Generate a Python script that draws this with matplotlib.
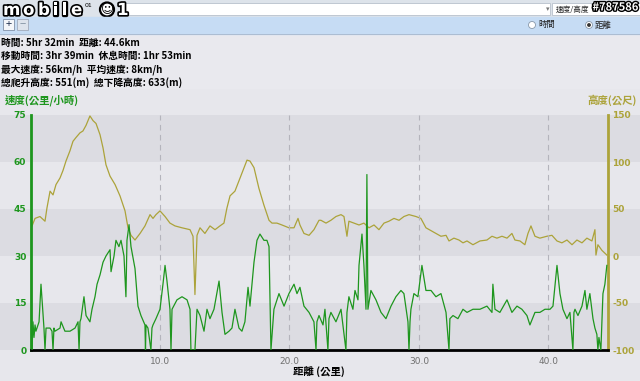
import matplotlib.pyplot as plt
import matplotlib.patheffects as pe
from matplotlib.patches import Rectangle, Circle

plt.rcParams['font.family'] = ['Noto Sans CJK TC', 'DejaVu Sans']

# ── data ─────────────────────────────────────────────────────────────────────
SPEED_KM = [0.12, 0.19, 0.27, 0.35, 0.42, 0.66, 0.81, 0.97, 1.04, 1.12, 1.20,
            1.51, 1.66, 1.74, 1.81, 1.89, 2.28, 2.36, 2.66, 3.05, 3.44, 3.67,
            3.75, 3.82, 3.90, 4.13, 4.29, 4.59, 4.75, 4.98, 5.14, 5.37, 5.60,
            5.83, 6.14, 6.22, 6.45, 6.60, 6.83, 6.99, 7.22, 7.37, 7.45, 7.61,
            7.76, 8.07, 8.30, 8.53, 8.84, 8.88, 8.92, 9.07, 9.30, 9.38, 9.46,
            9.69, 10.00, 10.23, 10.39, 10.54, 10.77, 10.85, 10.93, 11.31,
            11.70, 12.09, 12.32, 12.39, 12.70, 12.86, 13.09, 13.40, 13.63,
            13.86, 14.17, 14.56, 14.79, 15.02, 15.33, 15.56, 15.79, 16.10,
            16.33, 16.56, 16.80, 16.95, 17.26, 17.49, 17.72, 18.03, 18.26,
            18.42, 18.57, 18.80, 19.19, 19.58, 19.96, 20.35, 20.58, 20.81,
            21.12, 21.51, 21.89, 22.05, 22.12, 22.28, 22.59, 22.74, 22.97,
            23.05, 23.20, 23.59, 23.98, 24.36, 24.44, 24.59, 24.90, 25.06,
            25.29, 25.37, 25.60, 25.75, 25.91, 25.98, 26.06, 26.29, 26.68,
            27.07, 27.45, 27.84, 28.22, 28.61, 28.84, 29.15, 29.23, 29.31,
            29.38, 29.61, 29.92, 30.23, 30.54, 30.93, 31.31, 31.70, 32.09,
            32.32, 32.39, 32.63, 33.01, 33.40, 33.71, 34.17, 34.71, 35.25,
            35.64, 35.71, 35.87, 36.25, 36.80, 37.18, 37.57, 37.95, 38.34,
            38.57, 38.96, 39.34, 39.73, 40.12, 40.35, 40.66, 40.89, 41.12,
            41.43, 41.66, 41.89, 41.97, 42.05, 42.28, 42.59, 42.82, 42.97,
            43.20, 43.44, 43.59, 43.74, 43.82, 43.90, 44.05, 44.21, 44.36,
            44.51]
SPEED = [0, 9, 4, 8, 6, 9, 21, 11, 7, 0, 7,
         7, 6, 0, 7, 6, 7, 9, 6, 6, 7, 9,
         0, 9, 10, 17, 11, 9, 13, 17, 21, 24, 28,
         30, 32, 25, 30, 35, 33, 35, 30, 17, 35, 40,
         33, 26, 14, 11, 8, 0, 8, 7, 0, 7, 8,
         10, 13, 21, 27, 22, 13, 0, 13, 16,
         17, 16, 13, 0, 0, 13, 11, 6, 13,
         10, 13, 22, 12, 5, 6, 7, 13, 7,
         6, 9, 20, 14, 28, 35, 37, 35, 35,
         33, 0, 13, 18, 14, 18, 21, 18, 20,
         14, 12, 9, 0, 9, 11, 8, 13, 0,
         10, 12, 9, 13, 0, 12, 17, 13, 19,
         16, 27, 37, 27, 13, 56, 13, 19, 16,
         12, 10, 14, 17, 19, 18, 9, 0, 9,
         13, 18, 17, 27, 19, 19, 17, 18, 12,
         0, 10, 11, 10, 13, 12, 13, 13, 14,
         12, 21, 13, 12, 16, 12, 14, 13, 11,
         8, 12, 12, 13, 13, 14, 27, 18, 13,
         10, 12, 0, 12, 13, 11, 14, 19, 13,
         18, 10, 7, 5, 0, 4, 0, 18, 21,
         27]

ALT_KM = [0.12, 0.35, 0.73, 1.12, 1.27, 1.51, 1.74, 1.97, 2.28, 2.51, 2.74,
          3.05, 3.28, 3.51, 3.82, 4.05, 4.29, 4.59, 4.83, 5.06, 5.37, 5.60,
          5.83, 6.14, 6.53, 6.91, 7.30, 7.53, 7.76, 8.07, 8.46, 8.84, 9.23,
          9.46, 9.69, 10.00, 10.39, 10.77, 11.16, 11.70, 12.32, 12.55, 12.70,
          12.86, 13.09, 13.47, 13.86, 14.25, 14.63, 14.94, 15.17, 15.41,
          15.79, 16.10, 16.41, 16.72, 16.95, 17.26, 17.64, 18.03, 18.42,
          18.65, 19.03, 19.42, 19.96, 20.35, 20.66, 20.81, 21.12, 21.51,
          21.89, 22.28, 22.43, 22.82, 23.20, 23.59, 23.98, 24.21, 24.44,
          24.59, 24.98, 25.37, 25.75, 26.14, 26.53, 26.91, 27.30, 27.68,
          28.07, 28.46, 28.84, 29.23, 29.77, 30.15, 30.54, 30.93, 31.31,
          31.70, 32.09, 32.32, 32.70, 33.09, 33.40, 33.71, 34.17, 34.71,
          35.25, 35.64, 36.02, 36.41, 36.80, 37.18, 37.41, 37.80, 38.18,
          38.42, 38.65, 38.96, 39.34, 39.88, 40.27, 40.66, 41.04, 41.43,
          41.82, 42.20, 42.59, 42.97, 43.36, 43.59, 43.67, 43.82, 44.13,
          44.36, 44.51]
ALT = [32, 40, 42, 37, 51, 69, 65, 76, 83, 91, 101,
       112, 122, 126, 131, 133, 139, 149, 144, 141, 129, 115,
       97, 85, 76, 64, 48, 30, 22, 17, 24, 32, 44,
       40, 44, 48, 42, 35, 32, 30, 28, 21, -41,
       22, 30, 24, 32, 28, 32, 35, 51, 64,
       69, 80, 91, 102, 101, 94, 72, 54, 38,
       35, 35, 33, 30, 30, 40, 33, 24, 22,
       28, 38, 38, 35, 38, 42, 44, 42, 21,
       37, 35, 33, 35, 30, 33, 28, 35, 37,
       40, 38, 42, 44, 42, 40, 30, 27, 24,
       21, 22, 16, 19, 17, 14, 16, 12, 16,
       17, 21, 19, 21, 19, 24, 17, 16, 12,
       24, 32, 21, 19, 21, 22, 16, 14, 17,
       12, 17, 14, 19, 16, 28, 1, 12, 6,
       3, 1]

STATS = ["時間: 5hr 32min  距離: 44.6km",
         "移動時間: 3hr 39min  休息時間: 1hr 53min",
         "最大速度: 56km/h  平均速度: 8km/h",
         "總爬升高度: 551(m)  總下降高度: 633(m)"]

X_TICKS = [10, 20, 30, 40]
SPEED_TICKS = [0, 15, 30, 45, 60, 75]
ALT_TICKS = [-100, -50, 0, 50, 100, 150]

GREEN = '#1e961e'
OLIVE = '#aca33a'
DARK_BAND = '#dcdce2'
LIGHT_BAND = '#e7e7ec'

W, H = 640, 381
fig = plt.figure(figsize=(W / 100, H / 100), dpi=100)
fig.patch.set_facecolor('#e9e9ee')

# ── page chrome (toolbar, stats text) ────────────────────────────────────────
ui = fig.add_axes([0, 0, 1, 1], zorder=0)
ui.set_xlim(0, W)
ui.set_ylim(H, 0)
ui.axis('off')
ui.add_patch(Rectangle((0, 0), W, 17, color='#dde3ea'))
ui.add_patch(Rectangle((125, 3), 425, 12, facecolor='white', edgecolor='#b8c0cc', lw=0.6))
ui.add_patch(Rectangle((552, 3), 88, 12, facecolor='white', edgecolor='#b8c0cc', lw=0.6))
ui.text(548, 9.5, '▾', fontsize=5, color='#777777', ha='center', va='center')
ui.text(556, 9.5, '速度/高度', fontsize=5.5, color='#222222', va='center')
ui.text(638, 7, '#787586', fontsize=8, color='white', ha='right', va='center',
        fontweight='bold',
        path_effects=[pe.withStroke(linewidth=2, foreground='black')])

# logo: outlined letters
logo_fx = [pe.withStroke(linewidth=2.4, foreground='black')]
for ch, lx in zip('mobile', [3, 23, 38, 53, 62, 71]):
    ui.text(lx, 10, ch, fontsize=12, color='white', va='center',
            family='DejaVu Sans', fontweight='bold', path_effects=logo_fx)
ui.text(85, 5.5, '01', fontsize=4.5, color='black', va='center', family='DejaVu Sans')
ui.add_patch(Circle((107, 9.5), 7, facecolor='white', edgecolor='black', lw=1.6))
ui.text(107, 10, '☺', fontsize=9, color='black', ha='center', va='center',
        family='DejaVu Sans')
ui.text(117, 10, '1', fontsize=12, color='white', va='center', fontweight='bold',
        family='DejaVu Sans', path_effects=logo_fx)

ui.add_patch(Rectangle((0, 17), W, 17, color='#c6dcf4'))
ui.add_patch(Rectangle((3, 19), 11, 11, facecolor='#f4f6fa', edgecolor='#8090a8', lw=0.6))
ui.text(8.5, 24.5, '+', fontsize=8, ha='center', va='center', color='#203050')
ui.add_patch(Rectangle((17, 19), 11, 11, facecolor='#dde3ec', edgecolor='#a0aabb', lw=0.6))
ui.text(22.5, 24.5, '−', fontsize=8, ha='center', va='center', color='#8090a0')
ui.add_patch(Circle((532, 25), 3.5, facecolor='white', edgecolor='#8898aa', lw=0.6))
ui.text(538, 25, '時間', fontsize=6, va='center', color='#222222')
ui.add_patch(Circle((589, 25), 3.5, facecolor='white', edgecolor='#8898aa', lw=0.6))
ui.add_patch(Circle((589, 25), 1.2, color='#333333'))
ui.text(595, 25, '距離', fontsize=6, va='center', color='#222222')
ui.plot([0, W], [34, 34], color='#a8b8cc', lw=0.6)

for i, line in enumerate(STATS):
    ui.text(1, 42.5 + i * 13.3, line, fontsize=7, va='center', color='black',
            fontweight='bold')

# ── banded background behind the chart ──────────────────────────────────────
bg_top = 89
bg = fig.add_axes([0, 0, 1, 1 - bg_top / H], zorder=1)
bg.set_xlim(0, 1)
bg.set_ylim((350 - H) / 3.133, (350 - bg_top) / 3.133)
bg.axis('off')
bg.axhspan(-20, 0, color=LIGHT_BAND, lw=0)
for lo in range(0, 90, 15):
    bg.axhspan(lo, lo + 15, color=DARK_BAND if (lo // 15) % 2 == 0 else LIGHT_BAND, lw=0)

# ── chart ────────────────────────────────────────────────────────────────────
ax = fig.add_axes([30.5 / W, 1 - 350 / H, 577.5 / W, 235 / H], zorder=2)
ax.patch.set_alpha(0)
ax.set_xlim(0, 44.6)
ax.set_ylim(0, 75)

ax2 = ax.twinx()
ax2.set_ylim(-100, 150)
ax2.plot(ALT_KM, ALT, color=OLIVE, lw=0.9)
ax.plot(SPEED_KM, SPEED, color=GREEN, lw=0.9, zorder=3)
ax.set_zorder(3)
ax2.set_zorder(2)

for x in X_TICKS:
    ax.axvline(x, color='#b4b4bc', lw=0.8, ls=(0, (5, 4)), zorder=1)

ax.set_xticks(X_TICKS)
ax.set_xticklabels([f'{x:.1f}' for x in X_TICKS], family='DejaVu Sans')
ax.tick_params(axis='x', length=0, labelsize=6.5, labelcolor='#707070', pad=5)
ax.set_yticks(SPEED_TICKS)
ax.set_yticklabels([str(v) for v in SPEED_TICKS], family='DejaVu Sans')
ax.tick_params(axis='y', length=0, labelsize=6.5, labelcolor=GREEN, pad=3)
for t in ax.get_yticklabels():
    t.set_fontweight('bold')
ax2.set_yticks(ALT_TICKS)
ax2.set_yticklabels([str(v) for v in ALT_TICKS], family='DejaVu Sans')
ax2.tick_params(axis='y', length=0, labelsize=6.5, labelcolor=OLIVE, pad=3)
for t in ax2.get_yticklabels():
    t.set_fontweight('bold')

for a in (ax, ax2):
    for s in a.spines.values():
        s.set_visible(False)
ax2.spines['left'].set_visible(True)
ax2.spines['left'].set_color(GREEN)
ax2.spines['left'].set_linewidth(2)
ax2.spines['right'].set_visible(True)
ax2.spines['right'].set_color(OLIVE)
ax2.spines['right'].set_linewidth(2)
ax.spines['bottom'].set_visible(True)
ax.spines['bottom'].set_color('black')
ax.spines['bottom'].set_linewidth(2)

ax.set_xlabel('距離 (公里)', fontsize=7.5, color='black', labelpad=1,
              fontweight='bold')
fig.text(5 / W, 1 - 100 / H, '速度(公里/小時)', fontsize=7.5, color=GREEN,
         va='center', zorder=5, fontweight='bold')
fig.text(637 / W, 1 - 100 / H, '高度(公尺)', fontsize=7.5, color=OLIVE,
         va='center', ha='right', zorder=5, fontweight='bold')

fig.savefig('out.png', dpi=100)
